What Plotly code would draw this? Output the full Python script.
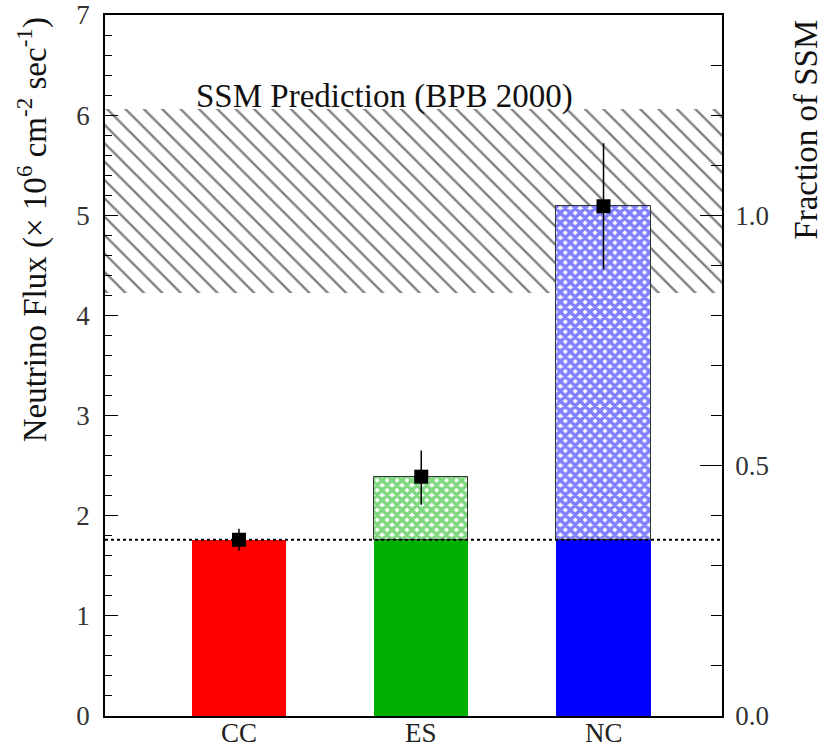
import plotly.graph_objects as go

# ---- data ----
categories = ["CC", "ES", "NC"]
cat_pos = [1, 2, 3]
flux = [1.76, 2.39, 5.09]
err_plus = [0.11, 0.26, 0.63]
err_minus = [0.11, 0.28, 0.63]
cc_level = 1.76          # solid part of each bar / dotted line
ssm_low, ssm_high = 4.22, 6.06
ssm_norm = 5.0           # flux corresponding to fraction 1.0
ssm_label = "SSM Prediction (BPB 2000)"

colors = ["#ff0000", "#00b000", "#0000ff"]

X0, X1 = 0.265, 3.65
BAR_W = 0.516
FONT = "'Liberation Serif', 'Times New Roman', Times, serif"

fig = go.Figure()

# SSM band (hatched)
fig.add_trace(go.Bar(
    x=[(X0 + X1) / 2], y=[ssm_high - ssm_low], base=[ssm_low], width=[X1 - X0],
    marker=dict(color="white", line=dict(width=0),
                pattern=dict(shape="\\", size=13, solidity=0.18,
                             fgcolor="black", bgcolor="white", fillmode="overlay")),
    hoverinfo="skip", showlegend=False))

# solid lower parts
fig.add_trace(go.Bar(
    x=cat_pos, y=[min(f, cc_level) for f in flux], base=0, width=BAR_W,
    marker=dict(color=colors, line=dict(width=0)), showlegend=False))

# cross-hatched upper parts (ES, NC)
fig.add_trace(go.Bar(
    x=cat_pos[1:], y=[f - cc_level for f in flux[1:]], base=cc_level, width=BAR_W,
    marker=dict(color="white", line=dict(width=1, color="#333"),
                pattern=dict(shape="x", size=7, solidity=0.75,
                             fgcolor=colors[1:], bgcolor="white", fillmode="overlay")),
    showlegend=False))

# measured points
fig.add_trace(go.Scatter(
    x=cat_pos, y=flux, mode="markers",
    marker=dict(symbol="square", size=14, color="black"),
    error_y=dict(type="data", symmetric=False, array=err_plus, arrayminus=err_minus,
                 width=0, thickness=1.5, color="black"),
    showlegend=False))

# invisible trace on fraction axis
fig.add_trace(go.Scatter(
    x=cat_pos, y=[f / ssm_norm for f in flux], yaxis="y2", mode="markers",
    marker=dict(opacity=0), hoverinfo="skip", showlegend=False))

# dotted CC line
fig.add_shape(type="line", xref="x", yref="y", x0=X0, x1=X1, y0=cc_level, y1=cc_level,
              line=dict(color="black", width=2, dash="dot"), layer="above")

fig.add_annotation(x=1.80, y=6.19, xref="x", yref="y", text=ssm_label,
                   showarrow=False, font=dict(family=FONT, size=33, color="#111"))

# category labels under the axis
for p, c in zip(cat_pos, categories):
    fig.add_annotation(x=p, xref="x", y=0, yref="paper", yanchor="top", yshift=0,
                       text=c, showarrow=False, font=dict(family=FONT, size=27, color="#222"))

fig.add_annotation(xref="paper", yref="paper", x=-0.117, y=1.0, xanchor="center", yanchor="top",
                   text="Neutrino Flux (× 10<sup>6</sup> cm<sup>-2</sup> sec<sup>-1</sup>)",
                   textangle=-90, showarrow=False, font=dict(family=FONT, size=33, color="#111"))
fig.add_annotation(xref="paper", yref="paper", x=1.136, y=0.996, xanchor="center", yanchor="top",
                   text="Fraction of SSM",
                   textangle=-90, showarrow=False, font=dict(family=FONT, size=33, color="#111"))

fig.update_layout(
    width=827, height=748,
    margin=dict(l=105, r=105, t=15, b=32, autoexpand=False),
    paper_bgcolor="white", plot_bgcolor="white",
    barmode="overlay", bargap=0,
    font=dict(family=FONT, size=27, color="#333"),
    xaxis=dict(range=[X0, X1], showticklabels=False, ticks="",
               automargin=False,
               showline=True, linecolor="black", linewidth=1.5, mirror=True,
               showgrid=False, zeroline=False),
    yaxis=dict(range=[0, 7], dtick=1, ticks="inside", ticklen=13, tickwidth=1.2,
               automargin=False, ticklabelstandoff=8,
               tickcolor="black", showline=True, linecolor="black", linewidth=1.5,
               showgrid=False, zeroline=False, tickfont=dict(family=FONT, size=27, color="#333"),
               minor=dict(dtick=0.2, ticks="inside", ticklen=7, tickcolor="black", tickwidth=1.2)),
    yaxis2=dict(range=[0, 7 / ssm_norm], overlaying="y", side="right", dtick=0.5,
                automargin=False, ticklabelstandoff=6,
                tickformat=".1f", ticks="inside", ticklen=22, tickwidth=1.2,
                tickcolor="black", showline=True, linecolor="black", linewidth=1.5,
                showgrid=False, zeroline=False, tickfont=dict(family=FONT, size=27, color="#333"),
                minor=dict(dtick=0.1, ticks="inside", ticklen=11, tickcolor="black", tickwidth=1.2)),
)

fig.write_html("out.html")
